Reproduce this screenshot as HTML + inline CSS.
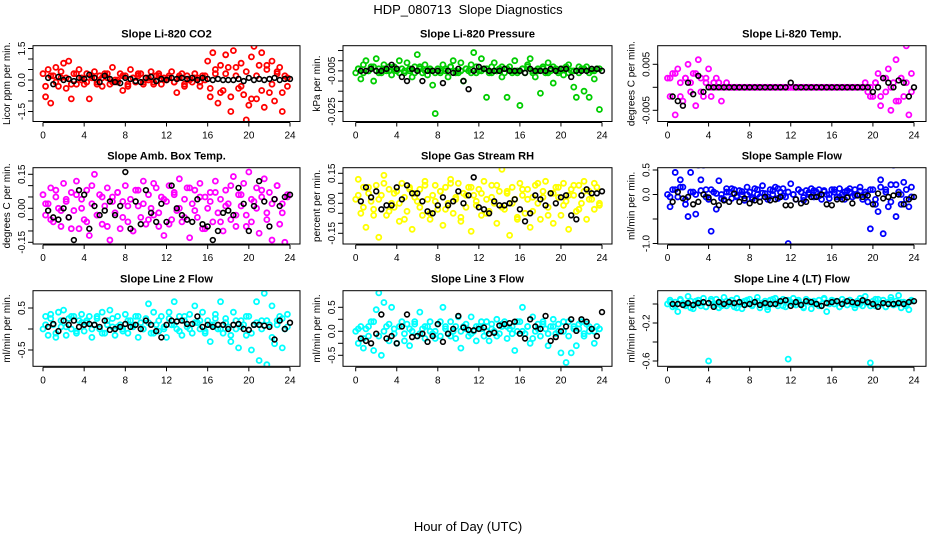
<!DOCTYPE html>
<html><head><meta charset="utf-8"><style>
body{margin:0;background:#fff;}
svg text{font-family:"Liberation Sans",Arial,sans-serif;}
</style></head><body>
<svg id="chart" width="936" height="540" viewBox="0 0 936 540" xmlns="http://www.w3.org/2000/svg">
<text x="468" y="14" text-anchor="middle" font-size="13">HDP_080713&#160; Slope Diagnostics</text>
<text x="468" y="531" text-anchor="middle" font-size="13">Hour of Day (UTC)</text>
</svg>
<script>
const xTicks = [0,4,8,12,16,20,24];
const co2 = [0.3,-0.8,0.5,-1.1,0.2,0.6,-0.3,0.1,0.8,-0.4,0.9,-0.9,0.3,-0.2,0.5,0.1,-0.2,0.3,-0.9,0.1,0.4,-0.1,0.2,-0.3,0.3,0.1,-0.2,0.6,0.0,-0.1,0.3,-0.5,0.2,-0.3,0.5,0.1,-0.1,0.2,0.3,-0.2,0.1,0.0,0.4,-0.1,0.2,0.3,-0.2,0.1,0.0,0.2,0.4,-0.1,-0.6,0.1,0.3,-0.2,0.2,0.0,-0.1,0.3,0.1,-0.3,0.2,0.0,0.9,-0.8,1.3,0.3,-1.1,0.7,-0.5,1.2,0.6,-1.5,1.4,0.2,-0.4,0.8,-0.7,-1.9,-1.2,1.1,1.6,-0.9,0.7,1.3,-1.3,0.5,-0.6,0.9,-1.0,0.4,0.6,-1.5,0.2,-0.3];
const co2B = [-0.3,0.2,-0.1,0.4,0.1,-0.2,0.3,0.0,-0.1,0.2,-0.2,0.1,0.3,-0.1,0.0,0.2,-0.2,0.1,0.3,-0.1,0.1,-0.2,0.2,0.0,0.1,-0.1,0.2,-0.3,0.0,0.1,-0.1,0.2,-0.4,0.5,-0.6,0.3,-0.8,0.6,-0.3,0.4,-0.9,0.2,-0.5,0.7,-0.2,0.3,-0.6,0.1];
const co2Mean = [0.1,-0.2,0.15,0,0.05,-0.05,0.1,0.05,0.25,0.1,-0.1,0.2,0.05,-0.1,-0.15,0.1,0.05,-0.05,-0.1,0.1,0.15,-0.05,0.05,0.0,0.1,0.05,0.1,0.05,0.1,0.0,0.1,0.05,0.0,0.05,0.0,0.0,0.0,0.05,-0.05,0.1,0.0,0.05,0.0,0.05,0.1,0.0,0.05,0.05];
const pres = [-0.006,-0.004,-0.009,-0.002,0.0,-0.005,-0.003,-0.010,0.001,-0.004,-0.006,-0.002,-0.005,-0.003,-0.007,-0.004,-0.005,0.0,-0.004,-0.006,-0.001,-0.005,-0.008,-0.003,0.003,-0.004,-0.006,-0.002,-0.007,-0.005,-0.012,-0.026,-0.004,-0.006,-0.002,-0.005,-0.008,-0.003,0.0,-0.005,-0.006,-0.001,-0.010,-0.004,-0.005,-0.002,0.004,-0.006,-0.005,0.001,-0.004,-0.018,-0.006,-0.003,-0.001,-0.005,-0.004,-0.008,-0.006,-0.018,-0.003,-0.005,0.0,-0.006,-0.022,-0.004,-0.006,-0.002,0.001,-0.005,-0.008,-0.004,-0.016,-0.003,-0.006,-0.001,-0.005,-0.011,-0.004,-0.006,-0.004,-0.007,-0.003,-0.002,-0.005,-0.013,-0.018,-0.006,-0.004,-0.015,-0.003,-0.018,-0.005,-0.009,-0.004,-0.024];
const presB = [-0.004,-0.006,-0.005,-0.003,-0.006,-0.004,-0.005,-0.003,-0.006,-0.005,-0.004,-0.006,-0.003,-0.005,-0.004,-0.006,-0.005,-0.004,-0.003,-0.006,-0.005,-0.004,-0.006,-0.003,-0.005,-0.004,-0.006,-0.005,-0.003,-0.004,-0.006,-0.005,-0.004,-0.003,-0.006,-0.005,-0.004,-0.006,-0.003,-0.005,-0.004,-0.006,-0.005,-0.003,-0.004,-0.006,-0.005,-0.004];
const presMean = [-0.005,-0.005,-0.004,-0.005,-0.005,-0.004,-0.002,-0.004,-0.008,-0.010,-0.004,-0.005,-0.010,-0.005,-0.005,-0.005,-0.011,-0.005,-0.006,-0.004,-0.010,-0.014,-0.005,-0.003,-0.004,-0.005,-0.005,-0.005,-0.004,-0.005,-0.005,-0.005,-0.006,-0.004,-0.005,-0.005,-0.005,-0.004,-0.005,-0.004,-0.004,-0.008,-0.005,-0.005,-0.005,-0.004,-0.004,-0.005];
const temp = [0.002,-0.002,0.003,-0.006,0.004,0.001,-0.003,0.002,0.005,-0.001,0.003,-0.004,0.006,0.002,-0.002,0.001,0.004,-0.002,0.001,0.002,0.001,-0.003,0,0.001,0,0,0,0,0,0,0,0,0,0,0,0,0,0,0,0,0,0,0,0,0,0,0,0,0,0,0,0,0,0,0,0,0,0,0,0,0,0,0,0,0,0,0,0,0,0,0,0,0,0,0,0,0,0.001,-0.001,-0.002,-0.002,0.001,0.003,-0.004,0.002,-0.001,0.004,-0.005,0.001,0.006,-0.003,0.002,-0.002,0.009,-0.006,0.003];
const tempB = [0.002,0.003,-0.002,0.002,0.001,0.003,-0.001,0.002,0,0,0,0,0,0,0,0,0,0,0,0,0,0,0,0,0,0,0,0,0,0,0,0,0,0,0,0,0,0,0,0,0.001,-0.002,0.002,0.0,-0.003,0.002,0.001,-0.001];
const tempMean = [-0.002,-0.003,-0.004,0.001,-0.0015,0.0025,-0.001,0,0,0,0,0,0,0,0,0,0,0,0,0,0,0,0,0.001,0,0,0,0,0,0,0,0,0,0,0,0,0,0,0,-0.001,0,0.002,0.001,0,0.0015,0.001,-0.002,0];
const amb = [0.06,-0.03,0.02,0.09,-0.06,0.05,0.0,-0.08,0.11,0.03,-0.04,0.07,-0.01,0.12,-0.09,0.04,-0.05,0.08,-0.12,0.02,0.15,-0.03,0.06,-0.07,0.01,0.09,-0.14,0.05,-0.02,0.07,-0.09,0.03,0.10,-0.06,0.04,-0.10,0.08,0.01,-0.04,0.12,-0.07,0.06,0.0,-0.03,0.09,-0.08,0.05,-0.12,0.03,0.10,-0.05,0.07,-0.01,0.13,-0.06,0.04,0.09,-0.13,0.02,0.08,-0.04,0.11,-0.09,0.05,0.0,0.07,-0.06,0.12,-0.02,0.04,-0.10,0.08,0.02,-0.05,0.14,-0.08,0.06,0.01,0.11,-0.03,0.16,-0.06,0.03,0.09,-0.11,0.05,0.13,-0.02,0.07,-0.14,0.04,0.10,-0.07,0.02,-0.15,0.06];
const ambB = [0.02,-0.05,0.08,-0.01,0.04,-0.09,0.06,0.0,-0.06,0.1,-0.03,0.05,-0.08,0.03,0.07,-0.04,0.01,-0.1,0.08,0.02,-0.05,0.11,-0.02,0.04,-0.07,0.06,0.0,-0.04,0.09,-0.01,0.05,-0.09,0.03,0.07,-0.06,0.01,0.1,-0.03,0.06,-0.08,0.04,0.0,0.08,-0.05,0.02,0.1,-0.02,0.05];
const ambMean = [-0.01,-0.04,-0.05,0.0,-0.04,-0.14,0.08,0.06,-0.09,0.01,-0.03,-0.01,0.03,-0.03,0.01,0.16,-0.09,0.03,-0.07,0.08,-0.02,-0.06,0.02,-0.06,0.1,0.0,-0.03,-0.05,-0.06,0.04,-0.07,-0.08,-0.14,-0.1,-0.02,-0.01,-0.03,0.09,0.02,-0.1,0.01,0.12,0.03,-0.08,0.04,0.01,0.05,0.06];
const rh = [0.02,0.12,-0.05,0.08,-0.12,0.05,0.01,-0.03,0.09,-0.17,0.04,0.14,-0.06,0.07,0.0,-0.02,0.06,-0.09,0.1,0.03,-0.04,0.08,-0.13,0.05,0.01,0.07,-0.06,0.11,0.02,-0.08,0.04,0.09,-0.03,0.06,-0.11,0.08,0.0,0.12,-0.05,0.03,0.1,-0.09,0.05,-0.02,0.08,-0.14,0.04,0.01,0.07,-0.06,0.11,0.02,-0.04,0.09,0.0,-0.1,0.06,0.17,-0.03,0.05,-0.16,0.08,0.02,-0.07,0.1,0.04,-0.05,0.07,-0.12,0.03,0.09,0.0,-0.08,0.06,0.11,-0.02,0.05,-0.1,0.08,0.03,-0.06,0.1,0.01,-0.13,0.07,0.04,-0.04,0.09,0.0,0.11,-0.08,0.06,0.02,-0.03,0.08,-0.01];
const rhB = [0.04,-0.02,0.08,-0.06,0.02,0.1,-0.04,0.05,0.0,-0.08,0.07,0.03,-0.02,0.09,-0.05,0.01,0.06,-0.03,0.1,0.02,-0.07,0.04,0.08,-0.01,0.05,-0.05,0.03,0.09,-0.02,0.06,0.0,-0.08,0.07,0.02,-0.04,0.1,0.03,-0.06,0.05,0.08,-0.01,0.04,0.09,-0.03,0.06,0.02,0.1,0.0];
const rhMean = [0.01,0.08,0.03,0.06,-0.03,-0.01,-0.01,0.08,0.02,0.09,0.05,0.05,0.01,-0.04,-0.05,-0.01,0.03,-0.01,0.01,0.06,0.0,0.04,0.13,-0.02,-0.03,-0.05,0.01,-0.01,-0.01,0.0,0.02,-0.03,-0.09,-0.05,0.04,0.02,-0.01,0.05,0.0,0.03,0.04,-0.06,-0.08,0.04,0.07,0.05,0.05,0.06];
const sflow = [0.0,-0.25,0.1,0.45,-0.05,0.3,0.15,-0.2,-0.45,0.45,0.05,-0.4,0.6,0.3,0.6,0.1,-0.1,-0.75,0.05,-0.3,0.28,0.0,-0.1,0.12,0.05,-0.08,0.1,-0.05,0.08,0.0,-0.12,0.15,0.05,-0.1,0.12,0.0,-0.05,0.18,0.02,-0.1,0.1,0.0,0.15,-0.08,0.05,0.12,-0.05,-1.0,0.22,0.0,-0.1,0.1,0.05,-0.12,0.08,0.0,0.12,-0.05,0.05,0.1,-0.1,0.08,0.0,-0.08,0.1,0.05,-0.05,0.12,0.0,-0.1,0.08,0.05,-0.05,0.1,0.0,0.15,-0.1,0.05,-0.15,-0.7,0.1,-0.2,-0.35,0.3,-0.8,0.1,-0.25,0.2,0.6,-0.45,0.05,-0.2,0.25,-0.1,-0.25,0.15];
const sflowB = [-0.05,0.1,0.15,-0.1,0.05,0.0,0.08,-0.05,0.1,0.02,-0.08,0.05,0.12,-0.03,0.06,0.0,-0.06,0.1,0.03,-0.05,0.08,0.12,-0.02,0.05,0.0,0.1,-0.06,0.04,0.08,-0.03,0.06,0.0,0.1,-0.05,0.05,0.12,-0.02,0.07,0.0,0.1,-0.1,0.15,0.05,-0.15,0.2,0.0,0.1,-0.05];
const sflowMean = [-0.15,0.05,-0.08,-0.05,-0.2,-0.15,0.0,-0.06,-0.15,-0.22,-0.12,-0.15,0.02,-0.15,-0.08,-0.18,-0.12,-0.15,-0.05,-0.12,-0.1,-0.05,-0.22,-0.22,-0.1,-0.18,-0.15,-0.05,-0.05,0.0,-0.2,-0.22,-0.1,-0.1,-0.06,-0.18,-0.02,-0.05,-0.02,-0.2,0.02,-0.08,-0.05,-0.02,0.0,-0.2,-0.1,-0.05];
const line2 = [0.0,0.3,-0.15,0.35,0.1,-0.2,0.4,0.05,0.45,-0.15,0.25,0.0,0.3,-0.1,0.2,0.35,-0.05,0.15,0.3,-0.2,0.1,0.25,0.0,0.4,-0.1,0.2,0.45,0.05,-0.15,0.3,0.1,0.0,0.35,-0.1,0.2,0.05,0.3,-0.2,0.15,0.0,0.25,0.6,-0.1,0.4,0.1,-0.05,0.3,0.0,-0.2,0.4,0.1,0.65,0.0,0.3,-0.15,0.2,0.05,0.35,-0.1,0.55,0.15,0.0,0.4,-0.05,0.2,-0.3,0.1,0.35,0.0,0.65,-0.1,0.25,0.05,-0.3,0.4,0.0,-0.45,0.2,0.1,-0.15,0.3,-0.5,0.1,0.65,-0.75,0.2,0.85,-0.85,0.1,0.55,-0.35,0.2,0.3,-0.45,0.0,0.35];
const line2B = [0.1,0.25,-0.1,0.2,0.05,0.3,-0.05,0.15,0.2,0.0,0.3,-0.1,0.1,0.25,0.05,-0.05,0.2,0.1,0.3,0.0,0.15,-0.1,0.2,0.05,0.25,0.1,-0.05,0.3,0.0,0.15,0.2,-0.1,0.1,0.25,0.0,0.15,-0.15,0.2,0.05,0.3,-0.1,0.15,0.0,0.2,-0.2,0.1,0.25,0.05];
const line2Mean = [0.05,0.12,-0.05,0.2,0.1,0.2,0.05,0.1,0.12,0.1,0.05,0.2,-0.02,0.0,0.05,0.12,0.05,0.1,0.0,0.2,0.1,-0.05,-0.2,0.1,0.2,0.18,0.2,0.12,0.12,0.3,0.05,0.1,0.05,0.1,0.1,0.0,0.1,0.12,0.0,-0.02,0.1,0.1,0.08,0.05,-0.25,0.2,0.0,0.15];
const line3 = [0.0,-0.25,0.1,-0.35,0.05,-0.1,0.2,-0.4,0.45,0.8,-0.5,0.6,0.1,-0.2,0.5,0.05,-0.25,0.1,0.2,-0.05,0.15,-0.3,0.0,0.2,-0.1,0.4,0.05,-0.15,0.1,0.2,-0.05,0.0,0.15,-0.1,0.5,0.1,-0.05,0.2,0.0,-0.15,0.3,-0.35,0.1,0.05,-0.1,0.3,0.0,-0.2,0.1,0.05,-0.1,0.2,-0.2,0.15,0.0,0.25,-0.05,0.1,0.2,-0.15,0.05,0.1,-0.4,0.0,0.2,0.5,-0.05,0.1,-0.25,0.3,0.0,0.15,-0.1,0.2,0.05,-0.3,0.1,0.25,-0.05,0.15,-0.45,0.0,-0.65,0.2,-0.45,0.1,-0.3,0.05,0.2,-0.1,0.15,0.0,0.05,-0.25,0.1,0.05];
const line3B = [0.05,-0.15,0.1,0.2,-0.1,0.0,0.15,-0.05,0.1,-0.2,0.05,0.15,-0.05,0.1,0.0,-0.15,0.2,0.05,-0.1,0.1,0.0,0.15,-0.05,0.1,0.2,0.0,0.05,-0.1,0.15,0.1,-0.05,0.2,0.0,0.1,-0.15,0.05,0.15,-0.05,0.1,0.0,0.2,-0.1,0.05,0.15,-0.05,0.1,0.0,0.05];
const line3Mean = [-0.15,-0.2,-0.25,-0.05,0.35,-0.15,-0.1,-0.25,0.1,0.35,-0.12,-0.1,-0.05,-0.22,-0.1,0.15,-0.22,-0.05,0.05,0.32,0.08,0.03,0.02,0.05,0.08,-0.05,-0.03,0.12,0.15,0.17,0.2,-0.05,-0.15,0.25,0.1,0.05,0.32,-0.2,-0.12,0.0,0.1,0.25,0.01,0.25,0.2,0.05,-0.1,0.4];
const line4 = [0.0,0.04,-0.03,0.02,-0.08,0.05,0.01,-0.02,0.08,0.03,-0.05,0.0,0.04,-0.02,0.06,-0.03,-0.6,0.03,-0.01,0.05,-0.04,0.02,0.07,-0.02,0.0,0.04,-0.03,0.06,0.01,-0.05,0.03,0.0,0.05,-0.02,0.02,0.07,-0.04,0.01,0.03,-0.06,0.04,0.0,0.06,-0.02,0.03,0.05,-0.03,-0.58,0.02,0.06,-0.01,0.04,0.0,-0.03,0.05,0.02,-0.05,0.03,0.0,0.04,-0.02,0.06,-0.08,0.01,0.04,0.0,0.03,-0.03,0.05,0.02,-0.01,0.04,0.0,-0.04,0.03,0.06,-0.02,0.08,0.01,-0.62,0.03,-0.02,0.05,0.0,0.04,-0.03,0.02,0.07,-0.01,0.03,0.09,-0.04,0.02,0.0,-0.06,0.03];
const line4B = [0.02,-0.02,0.04,0.0,-0.04,0.03,0.01,-0.03,0.05,0.0,-0.02,0.03,0.01,-0.04,0.02,0.04,-0.01,0.03,0.0,-0.03,0.05,0.01,-0.02,0.04,0.0,0.02,-0.04,0.03,0.01,-0.02,0.05,0.0,0.03,-0.03,0.02,0.04,-0.01,0.0,0.03,-0.02,0.05,0.01,-0.03,0.04,0.0,0.02,-0.02,0.04];
const line4Mean = [0.0,0.0,-0.01,0.01,-0.01,0.01,0.02,0.01,-0.03,0.02,0.0,0.02,0.01,0.02,-0.01,0.0,0.02,-0.01,0.01,0.0,0.0,0.03,0.04,-0.02,0.02,-0.01,0.03,0.02,0.0,-0.02,0.01,0.02,0.03,0.0,0.03,0.02,0.01,0.04,0.02,0.0,-0.03,0.01,0.0,0.0,0.01,0.0,0.02,0.03];

const cols = [{l:33,r:300,x0:43,x1:290},{l:343,r:612,x0:355.7,x1:602},{l:657.7,r:926,x0:667.5,x1:914}];
const rows = [{t:45.7,b:121.5},{t:167.7,b:244},{t:290.7,b:366.3}];
const panels = [
 {name:'co2',title:'Slope Li-820 CO2',ylab:'Licor ppm per min.',c:0,r:0,color:'#ff0000',vals:co2,extra:co2B,mean:co2Mean,y0:80,k:21,ticks:[-1.5,-1,-0.5,0,0.5,1,1.5],labels:{'-1.5':'-1.5','0':'0.0','1.5':'1.5'}},
 {name:'pressure',title:'Slope Li-820 Pressure',ylab:'kPa per min.',c:1,r:0,color:'#00cd00',vals:pres,extra:presB,mean:presMean,y0:60.7,k:2034,ticks:[0.005,0,-0.005,-0.01,-0.015,-0.02,-0.025],labels:{'-0.005':'-0.005','-0.025':'-0.025'}},
 {name:'temp',title:'Slope Li-820 Temp.',ylab:'degrees C per min.',c:2,r:0,color:'#ff00ff',vals:temp,extra:tempB,mean:tempMean,y0:87.3,k:4600,ticks:[-0.005,0,0.005],labels:{'-0.005':'-0.005','0.005':'0.005'}},
 {name:'amb-box-temp',title:'Slope Amb. Box Temp.',ylab:'degrees C per min.',c:0,r:1,color:'#ff00ff',vals:amb,extra:ambB,mean:ambMean,y0:208.3,k:226.7,ticks:[-0.15,-0.1,-0.05,0,0.05,0.1,0.15],labels:{'-0.15':'-0.15','0':'0.00','0.15':'0.15'}},
 {name:'gas-rh',title:'Slope Gas Stream RH',ylab:'percent per min.',c:1,r:1,color:'#ffff00',vals:rh,extra:rhB,mean:rhMean,y0:203.3,k:200,ticks:[-0.15,-0.1,-0.05,0,0.05,0.1,0.15],labels:{'-0.15':'-0.15','0':'0.00','0.15':'0.15'}},
 {name:'sample-flow',title:'Slope Sample Flow',ylab:'ml/min per min.',c:2,r:1,color:'#0000ff',vals:sflow,extra:sflowB,mean:sflowMean,y0:194.5,k:49,ticks:[-1,-0.5,0,0.5],labels:{'-1':'-1.0','0':'0.0','0.5':'0.5'}},
 {name:'line2-flow',title:'Slope Line 2 Flow',ylab:'ml/min per min.',c:0,r:2,color:'#00ffff',vals:line2,extra:line2B,mean:line2Mean,y0:329,k:42,ticks:[-0.5,0,0.5],labels:{'-0.5':'-0.5','0.5':'0.5'}},
 {name:'line3-flow',title:'Slope Line 3 Flow',ylab:'ml/min per min.',c:1,r:2,color:'#00ffff',vals:line3,extra:line3B,mean:line3Mean,y0:331.3,k:48,ticks:[-0.5,-0.25,0,0.25,0.5],labels:{'-0.5':'-0.5','0':'0.0','0.5':'0.5'}},
 {name:'line4-flow',title:'Slope Line 4 (LT) Flow',ylab:'ml/min per min.',c:2,r:2,color:'#00ffff',vals:line4,extra:line4B,mean:line4Mean,y0:304,k:95,ticks:[-0.6,-0.4,-0.2,0],labels:{'-0.6':'-0.6','-0.2':'-0.2'}}
];
const NS='http://www.w3.org/2000/svg';
const svg=document.getElementById('chart');
function mk(tag,attrs,parent){const e=document.createElementNS(NS,tag);for(const a in attrs)e.setAttribute(a,attrs[a]);(parent||svg).appendChild(e);return e;}
panels.forEach(p=>{
  const C=cols[p.c],R=rows[p.r];
  const g=mk('g',{});
  
  
  const xs=h=>C.x0+(C.x1-C.x0)*h/24;
  const ys=v=>p.y0-v*p.k;
  const t=mk('text',{x:(C.l+C.r)/2,y:R.t-8,'text-anchor':'middle','font-size':'11','font-weight':'bold'},g);
  t.textContent=p.title;
  
  
  const yl=mk('text',{x:0,y:0,'text-anchor':'middle','font-size':'10',transform:`translate(${C.l-23},${(R.t+R.b)/2}) rotate(-90)`},g);
  yl.textContent=p.ylab;
  
  
  const clip=mk('clipPath',{id:'cl-'+p.name},g);
  mk('rect',{x:C.l,y:R.t,width:C.r-C.l,height:R.b-R.t},clip);
  const pts=mk('g',{'clip-path':`url(#cl-${p.name})`},g);
  p.vals.forEach((v,i)=>{
    const c=mk('circle',{cx:xs(i*24/p.vals.length),cy:ys(v),r:2.5,fill:'none',stroke:p.color,'stroke-width':1.8},pts);
    
    
  });
  p.extra.forEach((v,i)=>{
    const c=mk('circle',{cx:xs((i+0.5)*24/p.extra.length),cy:ys(v),r:2.5,fill:'none',stroke:p.color,'stroke-width':1.8},pts);
    
    
  });
  p.mean.forEach((v,i)=>{
    const c=mk('circle',{cx:xs((i+1)*24/p.mean.length),cy:ys(v),r:2.4,fill:'none',stroke:'#000','stroke-width':1.6},pts);
    
    
  });
  const box=mk('rect',{x:C.l,y:R.t,width:C.r-C.l,height:R.b-R.t,fill:'none',stroke:'#000','stroke-width':1},g);
  
  
  const xa=mk('g',{},g);
  
  
  mk('line',{x1:xs(0),x2:xs(24),y1:R.b+1,y2:R.b+1,stroke:'#000'},xa);
  xTicks.forEach(h=>{
    mk('line',{x1:xs(h),x2:xs(h),y1:R.b+1,y2:R.b+5,stroke:'#000'},xa);
    const tl=mk('text',{x:xs(h),y:R.b+17,'text-anchor':'middle','font-size':'10'},xa);
    tl.textContent=h;
    
    
  });
  const ya=mk('g',{},g);
  
  
  const tv=p.ticks.map(ys);
  mk('line',{x1:C.l,x2:C.l,y1:Math.min(...tv),y2:Math.max(...tv),stroke:'#000'},ya);
  p.ticks.forEach(v=>{
    const y=ys(v);
    mk('line',{x1:C.l-5,x2:C.l,y1:y,y2:y,stroke:'#000'},ya);
    const lab=p.labels[String(v)];
    if(lab!==undefined){
      const tl=mk('text',{x:0,y:0,'text-anchor':'middle','font-size':'10',transform:`translate(${C.l-8},${y}) rotate(-90)`},ya);
      tl.textContent=lab;
      
      
    }
  });
});
</script>
</body></html>
